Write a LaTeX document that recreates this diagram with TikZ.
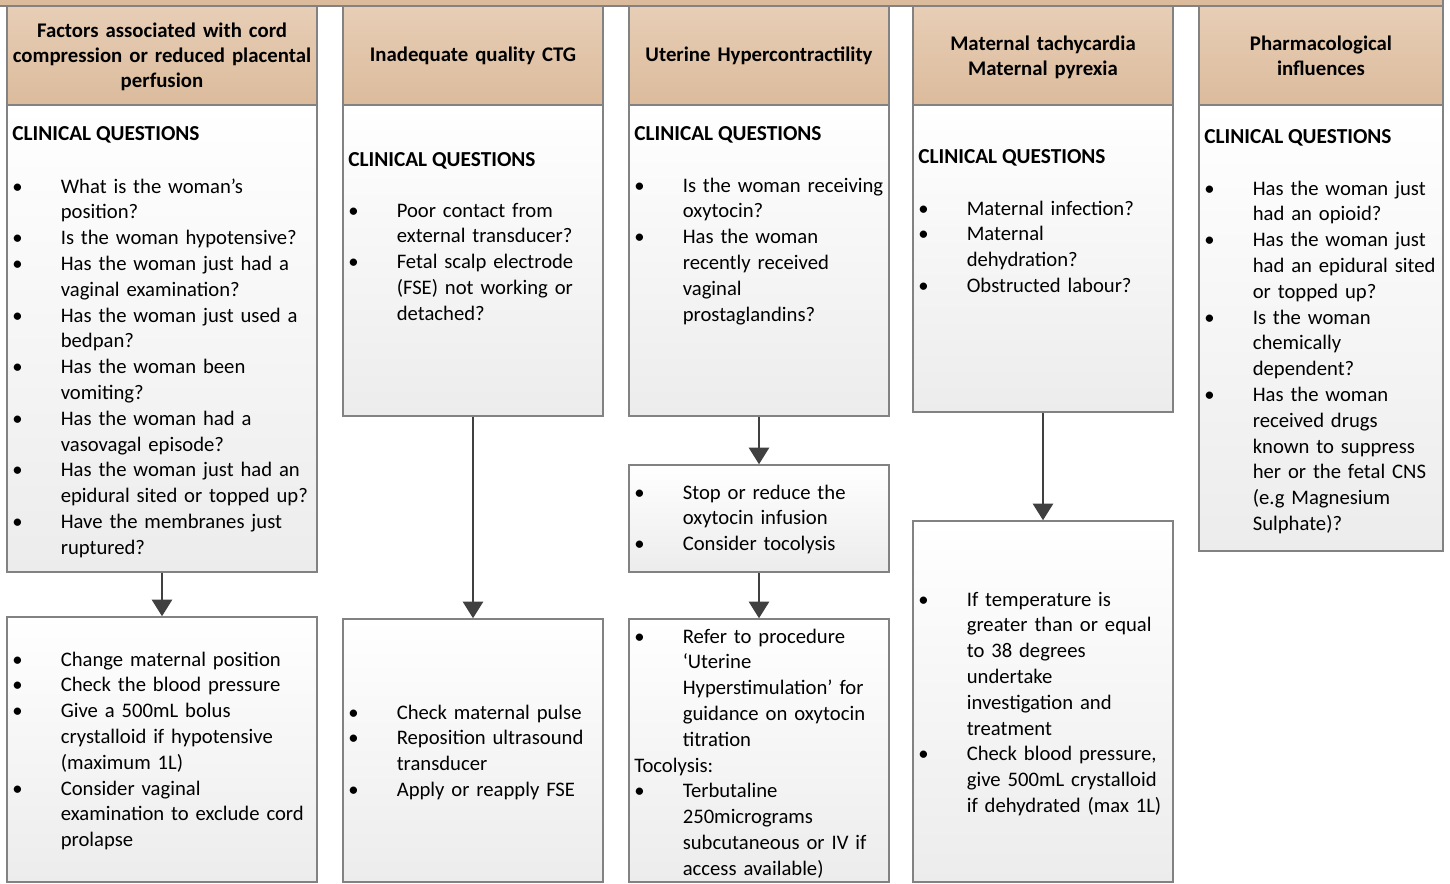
\documentclass[tikz,border=0pt]{standalone}
\usepackage{fontspec}
\setmainfont{Carlito}
\usetikzlibrary{fit,arrows.meta}
\definecolor{tanT}{RGB}{231,206,182}
\definecolor{tanB}{RGB}{220,187,156}
\definecolor{edgec}{RGB}{130,130,130}
\definecolor{boxB}{RGB}{236,236,236}
\definecolor{arrc}{RGB}{64,64,64}
\newcommand\bodyfont{\fontsize{15.5pt}{19.35pt}\selectfont}
\newcommand\titlefont{\bfseries\fontsize{16pt}{19.35pt}\selectfont}
\newcommand\hdrfont{\bfseries\fontsize{15.6pt}{18.75pt}\selectfont}
\newcommand\blt{\makebox[36.4pt][l]{\textbullet}}
\newcommand\cnt{\hspace*{36.4pt}}
\begin{document}
\begin{tikzpicture}[x=0.75pt,y=-0.75pt,
  hdrbox/.style={draw=edgec, line width=1.1pt, inner sep=0pt, top color=tanT, bottom color=tanB},
  whitebox/.style={draw=edgec, line width=1.1pt, inner sep=0pt, top color=white, bottom color=boxB},
  hdrtxt/.style={anchor=base, inner sep=0pt, text width=310pt, align=center, font=\hdrfont},
  qtitle/.style={anchor=base west, inner sep=0pt, font=\titlefont},
  bodytxt/.style={anchor=base west, inner sep=0pt, text width=300pt, align=left, font=\bodyfont},
  arrowline/.style={draw=arrc, line width=2.2pt, -{Triangle[width=15pt,length=12.5pt]}}
]
\clip (0,0) rectangle (1450,883);
% top bar
\node[draw=edgec, line width=1.1pt, fill=tanB, inner sep=0pt, fit={(-10,-30)(1443,6)}] (topbar) {};

% ---------- boxes ----------
\node[hdrbox, fit={(7,6)(317,105)}] (h1) {};
\node[whitebox, fit={(7,105)(317,572)}] (q1) {};
\node[whitebox, fit={(7,617)(317,882)}] (a1) {};

\node[hdrbox, fit={(343,6)(603,105)}] (h2) {};
\node[whitebox, fit={(343,105)(603,416)}] (q2) {};
\node[whitebox, fit={(343,619)(603,882)}] (a2) {};

\node[hdrbox, fit={(629,6)(889,105)}] (h3) {};
\node[whitebox, fit={(629,105)(889,416)}] (q3) {};
\node[whitebox, fit={(629,465)(889,572)}] (m3) {};
\node[whitebox, fit={(629,619)(889,882)}] (a3) {};

\node[hdrbox, fit={(913,6)(1173,105)}] (h4) {};
\node[whitebox, fit={(913,105)(1173,412)}] (q4) {};
\node[whitebox, fit={(913,521)(1173,882)}] (a4) {};

\node[hdrbox, fit={(1199,6)(1443,105)}] (h5) {};
\node[whitebox, fit={(1199,105)(1443,551)}] (q5) {};

% ---------- arrows ----------
\draw[arrowline] (q1.south) -- (a1.north);
\draw[arrowline] (q2.south) -- (a2.north);
\draw[arrowline] (q3.south) -- (m3.north);
\draw[arrowline] (m3.south) -- (a3.north);
\draw[arrowline] (q4.south) -- (a4.north);

% ---------- headers ----------
\node[hdrtxt] (h1t) at (162,37) {Factors associated with cord\\compression or reduced placental\\perfusion};
\node[hdrtxt] (h2t) at (473,61) {Inadequate quality CTG};
\node[hdrtxt] (h3t) at (759,61) {Uterine Hypercontractility};
\node[hdrtxt] (h4t) at (1043,50) {Maternal tachycardia\\Maternal pyrexia};
\node[hdrtxt] (h5t) at (1321,50) {Pharmacological\\influences};

% ---------- column 1 ----------
\node[qtitle] (q1t) at (12,140) {CLINICAL QUESTIONS};
\node[bodytxt] (q1b) at (12,193) {\blt What is the woman’s\\
\cnt position?\\
\blt Is the woman hypotensive?\\
\blt Has the woman just had a\\
\cnt vaginal examination?\\
\blt Has the woman just used a\\
\cnt bedpan?\\
\blt Has the woman been\\
\cnt vomiting?\\
\blt Has the woman had a\\
\cnt vasovagal episode?\\
\blt Has the woman just had an\\
\cnt epidural sited or topped up?\\
\blt Have the membranes just\\
\cnt ruptured?};
\node[bodytxt] (a1b) at (12,666) {\blt Change maternal position\\
\blt Check the blood pressure\\
\blt Give a 500mL bolus\\
\cnt crystalloid if hypotensive\\
\cnt (maximum 1L)\\
\blt Consider vaginal\\
\cnt examination to exclude cord\\
\cnt prolapse};

% ---------- column 2 ----------
\node[qtitle] (q2t) at (348,166) {CLINICAL QUESTIONS};
\node[bodytxt] (q2b) at (348,217) {\blt Poor contact from\\
\cnt external transducer?\\
\blt Fetal scalp electrode\\
\cnt (FSE) not working or\\
\cnt detached?};
\node[bodytxt] (a2b) at (348,719) {\blt Check maternal pulse\\
\blt Reposition ultrasound\\
\cnt transducer\\
\blt Apply or reapply FSE};

% ---------- column 3 ----------
\node[qtitle] (q3t) at (634,140) {CLINICAL QUESTIONS};
\node[bodytxt] (q3b) at (634,192) {\blt Is the woman receiving\\
\cnt oxytocin?\\
\blt Has the woman\\
\cnt recently received\\
\cnt vaginal\\
\cnt prostaglandins?};
\node[bodytxt] (m3b) at (634,499) {\blt Stop or reduce the\\
\cnt oxytocin infusion\\
\blt Consider tocolysis};
\node[bodytxt] (a3b) at (634,643) {\blt Refer to procedure\\
\cnt ‘Uterine\\
\cnt Hyperstimulation’ for\\
\cnt guidance on oxytocin\\
\cnt titration\\
Tocolysis:\\
\blt Terbutaline\\
\cnt 250micrograms\\
\cnt subcutaneous or IV if\\
\cnt access available)};

% ---------- column 4 ----------
\node[qtitle] (q4t) at (918,163) {CLINICAL QUESTIONS};
\node[bodytxt] (q4b) at (918,215) {\blt Maternal infection?\\
\blt Maternal\\
\cnt dehydration?\\
\blt Obstructed labour?};
\node[bodytxt] (a4b) at (918,606) {\blt If temperature is\\
\cnt greater than or equal\\
\cnt to 38 degrees\\
\cnt undertake\\
\cnt investigation and\\
\cnt treatment\\
\blt Check blood pressure,\\
\cnt give 500mL crystalloid\\
\cnt if dehydrated (max 1L)};

% ---------- column 5 ----------
\node[qtitle] (q5t) at (1204,143) {CLINICAL QUESTIONS};
\node[bodytxt] (q5b) at (1204,195) {\blt Has the woman just\\
\cnt had an opioid?\\
\blt Has the woman just\\
\cnt had an epidural sited\\
\cnt or topped up?\\
\blt Is the woman\\
\cnt chemically\\
\cnt dependent?\\
\blt Has the woman\\
\cnt received drugs\\
\cnt known to suppress\\
\cnt her or the fetal CNS\\
\cnt (e.g Magnesium\\
\cnt Sulphate)?};
\end{tikzpicture}
\end{document}
